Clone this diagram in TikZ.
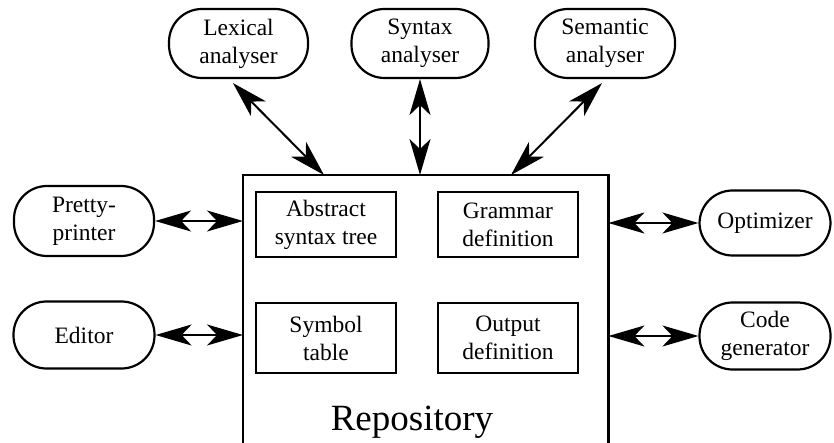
\documentclass[tikz,border=0pt]{standalone}
\usepackage{fontspec}
\usetikzlibrary{arrows.meta,calc}
\begin{document}
\begin{tikzpicture}[x=1pt,y=-1pt,
  txt/.style={font=\fontspec{Liberation Serif}\fontsize{23.5}{28}\selectfont},
  tool/.style={txt, draw, line width=2.2pt, rounded corners=33pt,
    minimum height=68pt, align=center, inner sep=0pt},
  part/.style={txt, draw, line width=2.2pt, minimum width=140pt,
    align=center, inner sep=0pt},
  link/.style={line width=2pt, {Stealth[length=36pt,width=21pt,inset=10pt]}-{Stealth[length=36pt,width=21pt,inset=10pt]}}]
\useasboundingbox (0,0) rectangle (834,443);

% repository: its lower edge lies below the page
\node[anchor=north west, inner sep=0pt, minimum width=365pt, minimum height=280pt] (repo) at (243,175) {};
\draw[line width=2.8pt] (repo.south west) -- (repo.north west) -- (repo.north east) -- (repo.south east);
\node[part, minimum height=65pt] (ast) at (326,224.5) {Abstract\\syntax tree};
\node[part, minimum height=65pt] (gram) at (508,224.5) {Grammar\\definition};
\node[part, minimum height=70pt] (sym) at (326,338) {Symbol\\table};
\node[part, minimum height=70pt] (out) at (508,338) {Output\\definition};
\node[font=\fontspec{Liberation Serif}\fontsize{37}{40}\selectfont, anchor=base] (repolabel) at (412,430) {Repository};

% tools around the repository
\node[tool, minimum width=139pt, minimum height=69pt] (lex) at (238.5,43.5) {Lexical\\analyser};
\node[tool, minimum width=137pt, minimum height=69pt] (syn) at (420,43.5) {Syntax\\analyser};
\node[tool, minimum width=140pt, minimum height=69pt] (sem) at (605,43.5) {Semantic\\analyser};
\node[tool, minimum width=140pt, minimum height=70pt] (pp) at (84,221) {Pretty-\\printer};
\node[tool, minimum width=141pt, minimum height=67pt] (ed) at (84,335) {Editor};
\node[tool, minimum width=131pt, minimum height=65pt] (opt) at (765,223) {Optimizer};
\node[tool, minimum width=131pt, minimum height=67pt] (cg) at (765,336) {Code\\generator};

% docking points of the slanted connectors
\coordinate (lexfoot) at ($(lex.south)+(-5.5,4)$);
\coordinate (lexdock) at ($(repo.north west)+(81,0)$);
\coordinate (semfoot) at ($(sem.south)+(-3,4)$);
\coordinate (semdock) at ($(repo.north west)+(268,0)$);

% connectors
\draw[link] (lexfoot) -- (lexdock);
\draw[link] (syn.south) -- (syn.south |- repo.north);
\draw[link] (semfoot) -- (semdock);
\draw[link] (pp.east) -- (pp.east -| repo.west);
\draw[link] (ed.east) -- (ed.east -| repo.west);
\draw[link] (opt.west -| repo.east) -- (opt.west);
\draw[link] (cg.west -| repo.east) -- (cg.west);
\end{tikzpicture}
\end{document}
